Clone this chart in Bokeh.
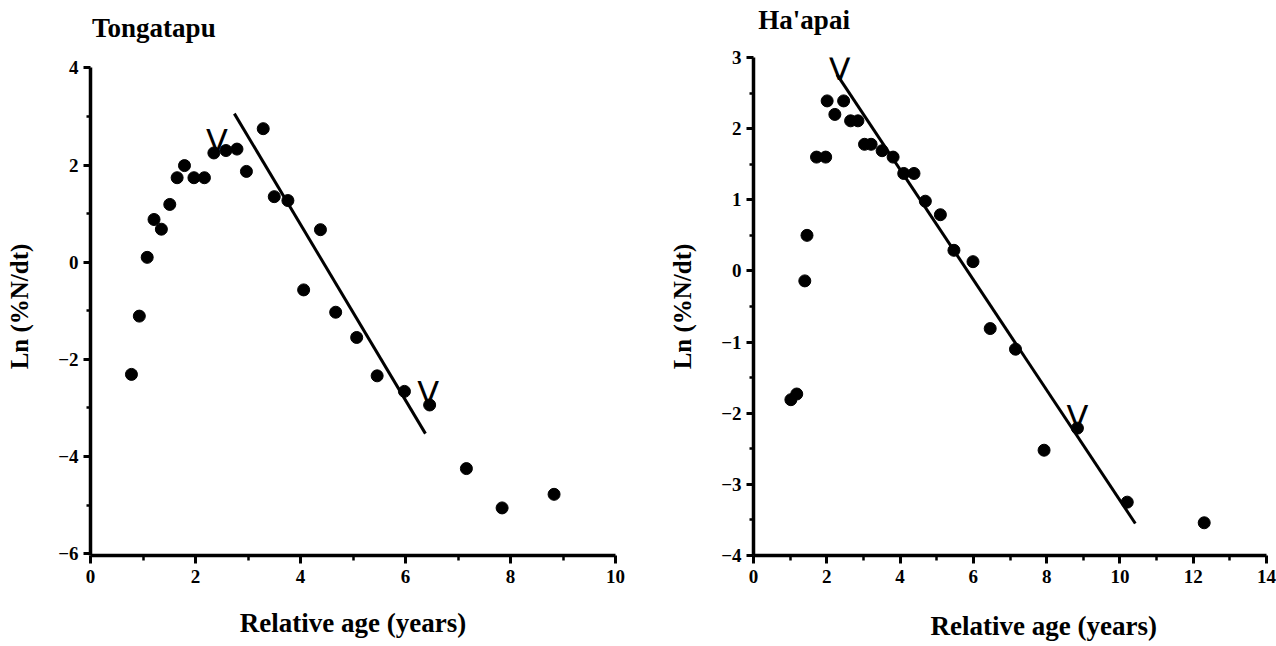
from bokeh.plotting import figure
from bokeh.layouts import row
from bokeh.models import FixedTicker, Range1d, LinearAxis
from bokeh.core.properties import value
from bokeh.embed import file_html
from bokeh.resources import INLINE

# ---- Tongatapu ----
tonga_age = [0.78, 0.93, 1.08, 1.21, 1.35, 1.51, 1.65, 1.79, 1.97, 2.17, 2.35, 2.58, 2.79,
             2.97, 3.29, 3.50, 3.76, 4.06, 4.38, 4.67, 5.07, 5.46, 5.98, 6.46, 7.16, 7.84, 8.83]
tonga_ln = [-2.31, -1.11, 0.10, 0.88, 0.68, 1.19, 1.74, 1.99, 1.74, 1.74, 2.25, 2.30, 2.33,
            1.87, 2.75, 1.35, 1.27, -0.57, 0.67, -1.03, -1.55, -2.34, -2.66, -2.94, -4.25, -5.06, -4.78]
tonga_fit_age = [2.74, 6.38]
tonga_fit_ln = [3.06, -3.53]
tonga_mark_age = [2.41, 6.43]
tonga_mark_ln = [2.50, -2.69]
tonga_xticks = [0, 2, 4, 6, 8, 10]
tonga_xminor = [1, 3, 5, 7, 9]
tonga_yticks = [-6, -4, -2, 0, 2, 4]
tonga_yminor = [-5, -3, -1, 1, 3]

# ---- Ha'apai ----
haapai_age = [1.02, 1.18, 1.40, 1.46, 1.72, 1.97, 2.01, 2.22, 2.46, 2.65, 2.85, 3.03, 3.21,
              3.51, 3.81, 4.10, 4.38, 4.69, 5.10, 5.47, 5.99, 6.46, 7.15, 7.93, 8.84, 10.20, 12.30]
haapai_ln = [-1.81, -1.73, -0.14, 0.50, 1.60, 1.60, 2.39, 2.20, 2.39, 2.11, 2.11, 1.78, 1.78,
             1.69, 1.60, 1.37, 1.37, 0.98, 0.79, 0.29, 0.13, -0.81, -1.10, -2.52, -2.21, -3.25, -3.54]
haapai_fit_age = [2.28, 10.42]
haapai_fit_ln = [2.76, -3.55]
haapai_mark_age = [2.35, 8.84]
haapai_mark_ln = [2.84, -2.06]
haapai_xticks = [0, 2, 4, 6, 8, 10, 12, 14]
haapai_xminor = [1, 3, 5, 7, 9, 11, 13]
haapai_yticks = [-4, -3, -2, -1, 0, 1, 2, 3]
haapai_yminor = [-3.5, -2.5, -1.5, -0.5, 0.5, 1.5, 2.5]

SERIF = "Liberation Serif"
XLABEL = "Relative age (years)"
NB = "\u00a0"


def text_axis(label, standoff):
    """An axis that draws only its label (used for the panel title / x label)."""
    return LinearAxis(ticker=FixedTicker(ticks=[]),
                      axis_line_color=None, major_tick_line_color=None,
                      minor_tick_line_color=None, major_tick_out=0, minor_tick_out=0,
                      major_tick_in=0, minor_tick_in=0, major_label_standoff=0,
                      major_label_text_font_size="0px",
                      axis_label=label, axis_label_align="center",
                      axis_label_standoff=standoff,
                      axis_label_text_font=SERIF, axis_label_text_font_style="bold",
                      axis_label_text_font_size="27px", axis_label_text_color="black")


def panel(title, xs, ys, fx, fy, mx, my, xr, yr, ybounds, xt, xm, yt, ym,
          w, bl, br, title_sto, xlab, xlab_sto):
    p = figure(width=w, height=646, x_range=Range1d(*xr), y_range=Range1d(*yr),
               output_backend="svg", toolbar_location=None, title=None,
               min_border_left=bl, min_border_right=br,
               min_border_top=57, min_border_bottom=91)
    p.outline_line_color = None
    p.grid.visible = False
    p.background_fill_color = "white"
    p.border_fill_color = "white"

    p.xaxis.ticker = FixedTicker(ticks=xt, minor_ticks=xm)
    p.yaxis.ticker = FixedTicker(ticks=yt, minor_ticks=ym)
    p.yaxis.bounds = ybounds
    for ax in (p.xaxis, p.yaxis):
        ax.axis_line_width = 3.5
        ax.axis_line_color = "black"
        ax.major_tick_line_width = 3
        ax.minor_tick_line_width = 2.5
        ax.major_tick_line_color = "black"
        ax.minor_tick_line_color = "black"
        ax.major_tick_in = 0
        ax.minor_tick_in = 0
        ax.major_label_text_font = SERIF
        ax.major_label_text_font_style = "bold"
        ax.major_label_text_font_size = "19px"
        ax.major_label_text_color = "black"
    p.xaxis.major_tick_out = 8
    p.xaxis.minor_tick_out = 5
    p.xaxis.major_label_standoff = 6
    p.yaxis.major_tick_out = 7
    p.yaxis.minor_tick_out = 4
    p.yaxis.major_label_standoff = 5

    p.yaxis.axis_label = "Ln (%N/dt)"
    p.yaxis.axis_label_text_font = SERIF
    p.yaxis.axis_label_text_font_style = "bold"
    p.yaxis.axis_label_text_font_size = "25px"
    p.yaxis.axis_label_text_color = "black"
    p.yaxis.axis_label_standoff = 22

    p.add_layout(text_axis(title, title_sto), "above")
    p.add_layout(text_axis(xlab, xlab_sto), "below")

    p.line(fx, fy, line_width=3, color="black")
    p.scatter(xs, ys, size=12, color="black")
    p.text(x=mx, y=my, text=["V"] * len(mx), text_font=value("DejaVu Sans"),
           text_font_size="32px", text_align="center", text_baseline="alphabetic",
           text_color="black")
    return p


left = panel("Tongatapu" + NB * 59, tonga_age, tonga_ln, tonga_fit_age, tonga_fit_ln,
             tonga_mark_age, tonga_mark_ln, (0, 10), (-6.04, 4.216), (-6.04, 4),
             tonga_xticks, tonga_xminor, tonga_yticks, tonga_yminor,
             640, 90, 25, 15, XLABEL, 22)
right = panel("Ha'apai" + NB * 61, haapai_age, haapai_ln, haapai_fit_age, haapai_fit_ln,
              haapai_mark_age, haapai_mark_ln, (0, 14), (-4, 3), (-4, 3),
              haapai_xticks, haapai_xminor, haapai_yticks, haapai_yminor,
              636, 113, 10, 23, NB * 10 + XLABEL, 25)

layout = row(left, right)
open("out.html", "w").write(file_html(layout, INLINE))
